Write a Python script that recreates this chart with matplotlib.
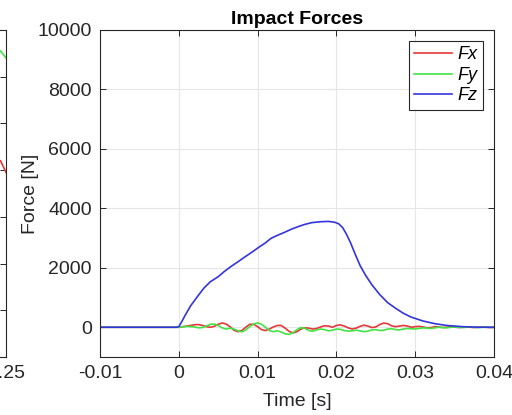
import numpy as np
import matplotlib.pyplot as plt

plt.rcParams['font.family'] = ['Liberation Sans', 'DejaVu Sans']

# Sample grid for the lateral force components (0.5 ms steps)
t_xy = np.arange(0, 81) * 0.0005

fx = [0, 20, 40, 60, 85, 90, 60, 20, 0, 30,
      100, 145, 110, 20, -100, -150, -110, 0, 100, 100,
      20, -80, -110, -60, 10, 60, 60, -30, -140, -190,
      -150, -60, -20, -30, -60, -40, 10, 50, 40, 0,
      60, 80, 40, -20, -60, -30, 30, 70, 40, -10,
      10, 90, 140, 120, 50, 20, 40, 60, 40, 0,
      20, 30, 10, -20, -10, 20, 10, -10, 0, 20,
      10, -10, 0, 10, 0, -10, 0, 10, 0, -10, 0]

fy = [0, 15, 30, 20, 10, -20, -10, 40, 100, 110,
      60, -20, -60, -30, -60, -120, -155, -90, 20, 110,
      145, 100, 0, -110, -150, -120, -160, -220, -240, -180,
      -80, -10, -40, -110, -130, -90, -60, -80, -120, -100,
      -60, -70, -110, -130, -120, -100, -120, -150, -130, -90,
      -80, -110, -100, -60, -50, -80, -90, -60, -40, -50,
      -60, -40, -20, -30, -40, -20, 0, -10, -20, 0,
      10, 0, -10, 0, 10, 0, -10, 0, 10, 0, -10]

# Vertical impact force
t_z = [-0.01, -0.0003, 0.0, 0.0003, 0.0008, 0.0015, 0.0025, 0.0032, 0.004, 0.005,
       0.0058, 0.0066, 0.0075, 0.0083, 0.0092, 0.0101, 0.011, 0.0117, 0.0125, 0.0134,
       0.0143, 0.0152, 0.016, 0.0169, 0.018, 0.019, 0.0198, 0.0203, 0.0208, 0.0213,
       0.0218, 0.0224, 0.023, 0.0237, 0.0245, 0.0255, 0.0265, 0.0275, 0.0285, 0.0295,
       0.031, 0.0325, 0.034, 0.036, 0.038, 0.04]
fz = [0, 0, 20, 150, 400, 720, 1080, 1320, 1530, 1700,
      1880, 2040, 2200, 2350, 2510, 2680, 2840, 2990, 3090, 3190,
      3300, 3390, 3460, 3520, 3550, 3560, 3530, 3480, 3350, 3120,
      2840, 2450, 2080, 1750, 1430, 1100, 830, 640, 470, 340,
      210, 120, 60, 20, 0, 0]

# Pre-impact baseline
t_pre = [-0.01, 0.0]
f_pre = [0, 0]

# Neighbouring panel (only its right edge shows)
t_prev = [0.2465, 0.25]
prev_green = [6.55, 6.4]
prev_red = [4.2, 3.95]

xticks = [-0.01, 0, 0.01, 0.02, 0.03, 0.04]
yticks = [0, 2000, 4000, 6000, 8000, 10000]

red = '#e5383b'
green = '#44e244'
blue = '#3434de'
axis_col = '#262626'

fig = plt.figure(figsize=(5.12, 4.15), dpi=100)


def style(ax):
    for s in ax.spines.values():
        s.set_color('#262626')
        s.set_linewidth(0.8)
    ax.tick_params(direction='in', length=4, width=0.7, color=axis_col,
                   labelcolor=axis_col, labelsize=14, top=True, right=True, pad=6)
    ax.grid(True, color='#e6e6e6', linewidth=0.8)
    ax.set_axisbelow(True)


# Partial left panel
ax0 = fig.add_axes([-0.758, 0.1398, 0.7698, 0.788])
ax0.plot(t_prev, prev_green, color=green, lw=1.2)
ax0.plot(t_prev, prev_red, color=red, lw=1.2)
ax0.set_xlim(0, 0.25)
ax0.set_ylim(0, 7)
ax0.set_xticks([0.25])
ax0.set_xticklabels(['0.25'])
ax0.set_yticks([1, 2, 3, 4, 5, 6])
ax0.set_yticklabels([])
style(ax0)
ax0.grid(False)

ax = fig.add_axes([0.1953, 0.1398, 0.7695, 0.788])
ax.plot(t_pre + list(t_xy), f_pre + fx, color=red, lw=1.2, label='Fx')
ax.plot(t_pre + list(t_xy), f_pre + fy, color=green, lw=1.2, label='Fy')
ax.plot(t_z, fz, color=blue, lw=1.2, label='Fz')

ax.set_xlim(-0.01, 0.04)
ax.set_ylim(-1000, 10000)
ax.set_xticks(xticks)
ax.set_xticklabels(['-0.01', '0', '0.01', '0.02', '0.03', '0.04'])
ax.set_yticks(yticks)
style(ax)

ax.set_title('Impact Forces', fontsize=14, fontweight='bold', color='black', pad=4)
ax.set_xlabel('Time [s]', fontsize=14, color=axis_col, labelpad=8)
ax.set_ylabel('Force [N]', fontsize=14, color=axis_col, labelpad=-1)

leg = ax.legend(loc='upper right', prop={'style': 'italic', 'size': 13},
                fancybox=False, framealpha=1, edgecolor='#262626',
                handlelength=2.1, handletextpad=0.3, borderpad=0.3,
                labelspacing=0.2, borderaxespad=0.6)
leg.get_frame().set_linewidth(0.8)

fig.savefig('out.png', dpi=100)
